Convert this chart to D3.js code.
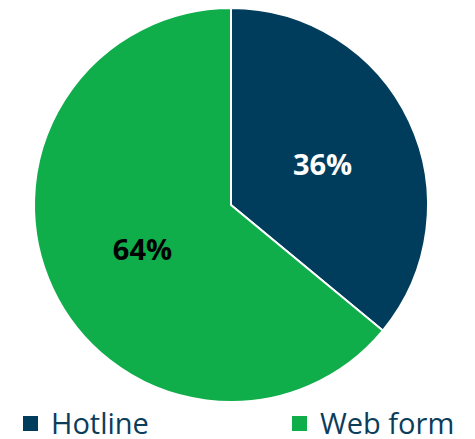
<!DOCTYPE html>
<html>
<head>
<meta charset="utf-8">
<script src="https://cdn.jsdelivr.net/npm/d3@7"></script>
<style>
  body { margin: 0; background: #fff; }
  svg { display: block; }
</style>
</head>
<body>
<svg id="chart" width="475" height="439"></svg>
<script>
const categories = ['Hotline', 'Web form'];
const values = [36, 64];
const colors = ['#003d5c', '#10ad4b'];
const labelColors = ['#ffffff', '#000000'];

const width = 475,
    height = 439,
    cx = 231,
    cy = 205,
    radius = 197;

const svg = d3.select('#chart');

const pie = d3.pie().sort(null).value(d => d);
const arcs = pie(values);

const arc = d3.arc().innerRadius(0).outerRadius(radius);
const labelArc = d3.arc().innerRadius(radius * 0.505).outerRadius(radius * 0.505);

const g = svg.append('g')
    .attr('transform', `translate(${cx}, ${cy})`);

g.selectAll('path')
    .data(arcs)
    .enter()
    .append('path')
    .attr('d', arc)
    .attr('fill', (d, i) => colors[i])
    .attr('stroke', '#fff')
    .attr('stroke-width', 2);

g.selectAll('text')
    .data(arcs)
    .enter()
    .append('text')
    .attr('transform', d => `translate(${labelArc.centroid(d)})`)
    .attr('x', 1.5)
    .attr('text-anchor', 'middle')
    .attr('dy', '0.42em')
    .attr('fill', (d, i) => labelColors[i])
    .style('font-family', '"Open Sans", sans-serif')
    .style('font-weight', 'bold')
    .style('font-size', '29px')
    .text(d => d.data + '%');

// legend
const legendX = d3.scalePoint().domain(categories).range([23, 292]);

const legend = svg.append('g')
    .selectAll('g')
    .data(categories)
    .enter()
    .append('g')
    .attr('transform', d => `translate(${legendX(d)}, 416)`);

legend.append('rect')
    .attr('width', 15)
    .attr('height', 15)
    .attr('fill', (d, i) => colors[i]);

legend.append('text')
    .attr('x', 28)
    .attr('y', 18)
    .attr('fill', '#0b3d5b')
    .style('font-family', '"Open Sans", sans-serif')
    .style('font-size', '29px')
    .text(d => d);
</script>
</body>
</html>
